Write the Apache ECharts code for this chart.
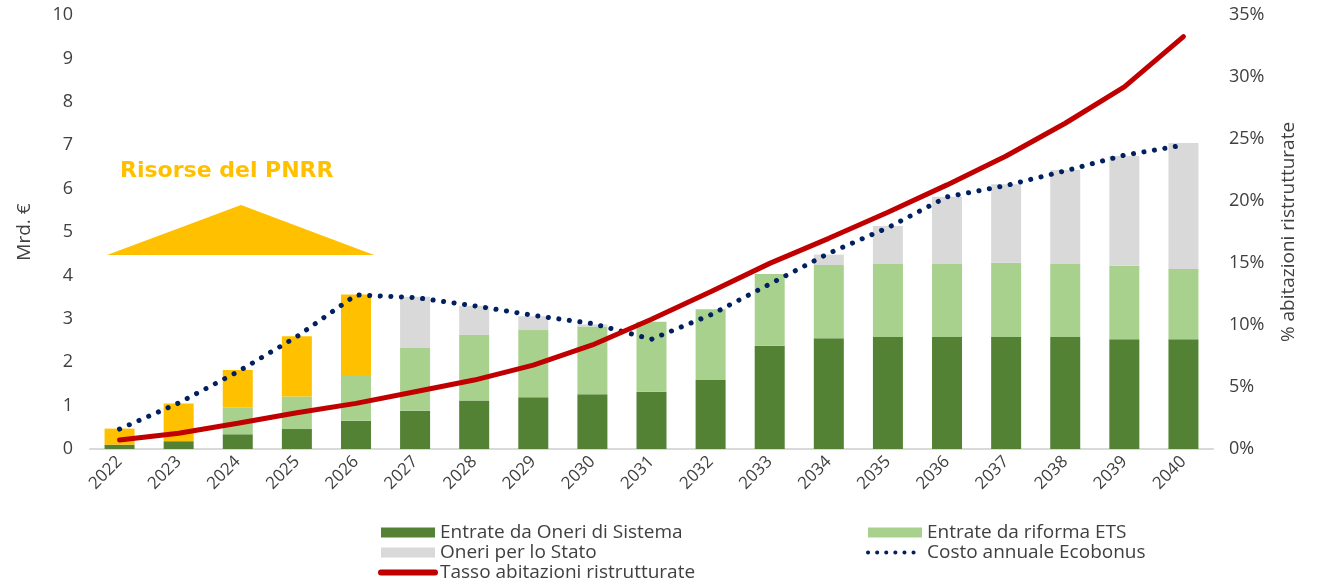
<!DOCTYPE html>
<html>
<head>
<meta charset="utf-8">
<script src="https://cdn.jsdelivr.net/npm/echarts@6/dist/echarts.min.js"></script>
<style>
  html, body { margin: 0; padding: 0; background: #fff; }
  #main { width: 1319px; height: 585px; }
</style>
</head>
<body>
<div id="main"></div>
<script>
// anni
var years = ["2022", "2023", "2024", "2025", "2026", "2027", "2028", "2029", "2030", "2031",
  "2032", "2033", "2034", "2035", "2036", "2037", "2038", "2039", "2040"];
// Mrd. € (barre impilate)
var oneriSistema = [0.10, 0.18, 0.34, 0.46, 0.65, 0.88, 1.12, 1.19, 1.26, 1.32, 1.59, 2.38, 2.55, 2.58, 2.58, 2.58, 2.58, 2.53, 2.53];
var riformaEts = [0, 0, 0.61, 0.75, 1.03, 1.45, 1.51, 1.55, 1.56, 1.61, 1.63, 1.65, 1.69, 1.68, 1.68, 1.71, 1.68, 1.69, 1.62];
var oneriStato = [0, 0, 0, 0, 0, 1.18, 0.67, 0.32, 0.05, 0, 0, 0, 0.24, 0.88, 1.55, 1.81, 2.17, 2.53, 2.90];
var risorsePnrr = [0.37, 0.87, 0.87, 1.39, 1.88, 0, 0, 0, 0, 0, 0, 0, 0, 0, 0, 0, 0, 0, 0];
// linee
var costoEcobonus = [0.46, 1.06, 1.78, 2.59, 3.55, 3.49, 3.30, 3.08, 2.89, 2.53, 3.09, 3.80, 4.51, 5.10, 5.81, 6.07, 6.41, 6.77, 7.00];
var tassoRistrutturate = [0.73, 1.27, 2.07, 2.93, 3.68, 4.62, 5.56, 6.77, 8.39, 10.46, 12.69, 14.97, 16.99, 19.09, 21.3, 23.63, 26.27, 29.2, 33.25];

var fontFam = "'Open Sans', 'Noto Sans', sans-serif";
var txt = "#404040";

const myChart = echarts.init(document.getElementById("main"), null, {width: 1319, height: 585});

var legendText = { fontSize: 19, color: txt, fontFamily: fontFam };
var hideDot = { opacity: 0 };

const option = {
  animation: false,
  textStyle: { fontFamily: fontFam },
  grid: { left: 90, right: 106, top: 15, bottom: 136 },
  legend: [
    {
      left: 373, top: 518, height: 70, orient: "vertical", itemGap: 1,
      itemWidth: 54, itemHeight: 10,
      textStyle: legendText,
      data: [
        { name: "Entrate da Oneri di Sistema", icon: "rect" },
        { name: "Oneri per lo Stato", icon: "rect" },
        { name: "Tasso abitazioni ristrutturate", itemStyle: hideDot,
          lineStyle: { width: 6, cap: "round" } }
      ]
    },
    {
      left: 861, top: 518, height: 70, orient: "vertical", itemGap: 1,
      itemWidth: 54, itemHeight: 10,
      textStyle: legendText,
      data: [
        { name: "Entrate da riforma ETS", icon: "rect" },
        { name: "Costo annuale Ecobonus", itemStyle: hideDot,
          lineStyle: { width: 4, type: [0.1, 9], cap: "round" } }
      ]
    }
  ],
  xAxis: {
    type: "category",
    data: years,
    axisLine: { lineStyle: { color: "#D9D9D9", width: 2 } },
    axisTick: { show: false },
    axisLabel: { rotate: 45, fontSize: 17, color: txt, margin: 10 }
  },
  yAxis: [
    {
      type: "value", min: 0, max: 10, interval: 1,
      name: "Mrd. €", nameLocation: "middle", nameGap: 56,
      nameTextStyle: { fontSize: 19, color: txt },
      axisLine: { show: false }, axisTick: { show: false }, splitLine: { show: false },
      axisLabel: { fontSize: 18, color: txt, margin: 17 }
    },
    {
      type: "value", min: 0, max: 35, interval: 5,
      name: "% abitazioni ristrutturate", nameLocation: "middle", nameGap: 66,
      nameTextStyle: { fontSize: 19, color: txt },
      axisLine: { show: false }, axisTick: { show: false }, splitLine: { show: false },
      axisLabel: { fontSize: 18, color: txt, margin: 16, formatter: "{value}%" }
    }
  ],
  series: [
    {
      name: "Entrate da Oneri di Sistema", type: "bar", stack: "tot", barWidth: 30,
      itemStyle: { color: "#548235" }, data: oneriSistema
    },
    {
      name: "Entrate da riforma ETS", type: "bar", stack: "tot",
      itemStyle: { color: "#A9D18E" }, data: riformaEts
    },
    {
      name: "Oneri per lo Stato", type: "bar", stack: "tot",
      itemStyle: { color: "#D9D9D9" }, data: oneriStato
    },
    {
      name: "Risorse del PNRR", type: "bar", stack: "tot",
      itemStyle: { color: "#FFC000" }, data: risorsePnrr
    },
    {
      name: "Costo annuale Ecobonus", type: "line", symbol: "none", z: 5,
      lineStyle: { color: "#002060", width: 5, type: [0.1, 10.5], cap: "round" },
      itemStyle: { color: "#002060" },
      data: costoEcobonus
    },
    {
      name: "Tasso abitazioni ristrutturate", type: "line", yAxisIndex: 1, symbol: "none", z: 6,
      lineStyle: { color: "#C00000", width: 5, cap: "round" },
      itemStyle: { color: "#C00000" },
      data: tassoRistrutturate
    }
  ],
  graphic: [
    {
      type: "text", left: 120, top: 160,
      style: { text: "Risorse del PNRR", fill: "#FFC000", font: "bold 22px 'DejaVu Sans', sans-serif" }
    },
    {
      type: "polygon",
      shape: { points: [[107, 255], [241, 205], [374, 255]] },
      style: { fill: "#FFC000" }
    }
  ]
};
myChart.setOption(option);
</script>
</body>
</html>
